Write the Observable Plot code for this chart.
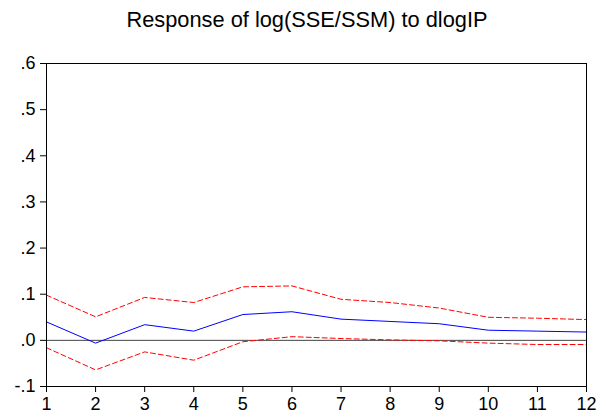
<!DOCTYPE html>
<html>
<head>
<meta charset="utf-8">
<script src="https://cdn.jsdelivr.net/npm/d3@7"></script>
<script src="https://cdn.jsdelivr.net/npm/@observablehq/plot@0.6"></script>
<style>
  html, body { margin: 0; padding: 0; background: #fff; }
  #wrap { width: 606px; height: 419px; position: relative; overflow: hidden; }
  #title { height: 40px; line-height: 40px; text-align: center; font-family: "Liberation Sans", Arial, sans-serif; font-size: 21.8px; color: #000; padding-left: 8px; box-sizing: border-box; white-space: nowrap; }
  #chart svg { display: block; }
</style>
</head>
<body>
<div id="wrap">
  <div id="title"></div>
  <div id="chart"></div>
</div>
<script>
const titleText = "Response of log(SSE/SSM) to dlogIP";
const horizon  = [1, 2, 3, 4, 5, 6, 7, 8, 9, 10, 11, 12];
const response = [0.040, -0.006, 0.034, 0.020, 0.056, 0.062, 0.046, 0.041, 0.036, 0.022, 0.020, 0.018];
const upper    = [0.098, 0.051, 0.093, 0.082, 0.116, 0.118, 0.089, 0.082, 0.070, 0.050, 0.048, 0.045];
const lower    = [-0.016, -0.064, -0.025, -0.043, -0.003, 0.008, 0.004, 0.001, -0.001, -0.006, -0.009, -0.009];
const yTicks   = [-0.1, 0, 0.1, 0.2, 0.3, 0.4, 0.5, 0.6];

document.getElementById("title").textContent = titleText;

const rows = horizon.map((h, i) => ({h, response: response[i], upper: upper[i], lower: lower[i]}));
const fmt = d => d.toFixed(1).replace("0.", ".");

const chart = Plot.plot({
  width: 606,
  height: 379,
  marginTop: 23,
  marginBottom: 33,
  marginLeft: 46,
  marginRight: 20,
  style: {fontFamily: "'Liberation Sans', Arial, sans-serif", fontSize: "18px", color: "#000", background: "#fff", overflow: "visible"},
  x: {domain: [1, 12], ticks: horizon, tickFormat: d => String(d), label: null},
  y: {domain: [-0.1, 0.6], ticks: yTicks, tickFormat: fmt, label: null},
  marks: [
    Plot.ruleY([0], {stroke: "#444", strokeWidth: 1}),
    Plot.line(rows, {x: "h", y: "upper", stroke: "#ff0000", strokeWidth: 1, strokeDasharray: "5,3"}),
    Plot.line(rows, {x: "h", y: "lower", stroke: "#ff0000", strokeWidth: 1, strokeDasharray: "5,3"}),
    Plot.line(rows, {x: "h", y: "response", stroke: "#0000ff", strokeWidth: 1}),
    Plot.axisX({ticks: horizon, tickSize: 6, tickPadding: 5, tickFormat: d => String(d), label: null}),
    Plot.axisY({ticks: yTicks, tickSize: 6, tickPadding: 5, tickFormat: fmt, label: null}),
    Plot.frame({stroke: "#000", strokeWidth: 1})
  ]
});
document.getElementById("chart").appendChild(chart);
</script>
</body>
</html>
